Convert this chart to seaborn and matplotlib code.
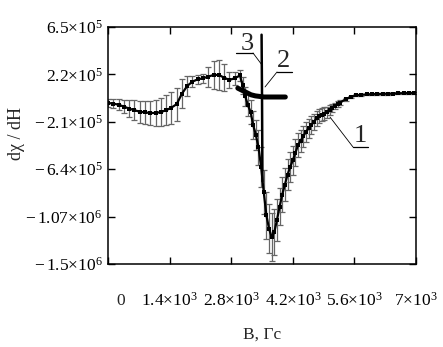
import numpy as np
import seaborn as sns
import matplotlib.pyplot as plt

# curve 1: measured derivative with error bars
b1 = [0, 120, 240, 360, 480, 600, 720, 840, 960, 1080, 1200, 1320, 1440, 1560,
      1680, 1800, 1920, 2040, 2160, 2280, 2400, 2520, 2640, 2760, 2880, 3000,
      3060, 3120, 3180, 3240, 3300, 3360, 3420, 3480, 3540, 3600, 3660, 3720,
      3780, 3840, 3900, 3960, 4020, 4080, 4140, 4200, 4260, 4320, 4380, 4440,
      4500, 4560, 4620, 4680, 4740, 4800, 4860, 4920, 4980, 5040, 5100, 5160,
      5220, 5280, 5400, 5520, 5640, 5760, 5880, 6000, 6120, 6240, 6360, 6480,
      6600, 6720, 6840, 6960]
y1 = [-0.39, -0.45, -0.55, -0.72, -0.90, -1.05, -1.18, -1.25, -1.30, -1.30,
      -1.22, -1.05, -0.82, -0.50, 0.45, 1.15, 1.55, 1.75, 1.85, 2.0, 2.15, 2.15,
      1.9, 1.7, 1.85, 2.1, 1.2, 0.2, -0.6, -1.2, -2.4, -3.3, -4.4, -6.2, -8.5,
      -10.6, -11.8, -12.55, -12.1, -11.0, -9.8, -8.7, -7.8, -6.9, -6.2, -5.6,
      -4.9, -4.2, -3.8, -3.4, -3.0, -2.7, -2.4, -2.1, -1.8, -1.6, -1.45, -1.35,
      -1.25, -1.05, -0.85, -0.65, -0.5, -0.35, -0.05, 0.15, 0.3, 0.35, 0.38,
      0.4, 0.42, 0.43, 0.45, 0.46, 0.48, 0.49, 0.5, 0.52]
e1 = [0.35, 0.4, 0.5, 0.6, 0.75, 0.9, 1.0, 1.05, 1.1, 1.15, 1.25, 1.35, 1.45,
      1.5, 1.3, 0.9, 0.5, 0.4, 0.4, 0.9, 1.3, 1.4, 1.2, 0.7, 0.6, 0.5, 0.8, 0.9,
      1.0, 1.1, 1.3, 1.4, 1.6, 1.8, 2.0, 2.1, 2.2, 2.2, 2.1, 1.9, 1.7, 1.6, 1.5,
      1.4, 1.35, 1.3, 1.2, 1.1, 1.0, 0.95, 0.9, 0.85, 0.8, 0.75, 0.7, 0.65,
      0.6, 0.55, 0.5, 0.45, 0.4, 0.3, 0.25, 0.2, 0.15, 0.1, 0.08, 0.08, 0.08,
      0.08, 0.08, 0.08, 0.08, 0.08, 0.08, 0.08, 0.08, 0.08]

# curve 2: thick short segment
b2 = [2950, 3050, 3150, 3250, 3350, 3450, 3550, 3650, 3750, 3850, 3950, 4030]
y2 = [0.95, 0.75, 0.55, 0.35, 0.25, 0.2, 0.15, 0.15, 0.15, 0.15, 0.15, 0.15]

# curve 3: narrow spike
b3 = [3490, 3500, 3510]
y3 = [5.8, 0.3, -7.5]

scale = 1e5
xticks = [0, 1400, 2800, 4200, 5600, 7000]
xlabels = ["", r"$1.4{\times}10^{3}$", r"$2.8{\times}10^{3}$", r"$4.2{\times}10^{3}$",
           r"$5.6{\times}10^{3}$", r"$7{\times}10^{3}$"]
yticks = [6.5e5, 2.2e5, -2.1e5, -6.4e5, -1.07e6, -1.5e6]
ylabels = [r"$6.5{\times}10^{5}$", r"$2.2{\times}10^{5}$", r"$-\,2.1{\times}10^{5}$",
           r"$-\,6.4{\times}10^{5}$", r"$-\,1.07{\times}10^{6}$", r"$-\,1.5{\times}10^{6}$"]

sns.set_theme(style="ticks")
plt.rcParams["font.family"] = ["Liberation Serif", "DejaVu Serif"]
plt.rcParams["mathtext.fontset"] = "custom"
plt.rcParams["mathtext.rm"] = "Liberation Serif"
plt.rcParams["mathtext.it"] = "Liberation Serif"

fig = plt.figure(figsize=(4.43, 3.47), dpi=100)
ax = fig.add_axes([0.2438, 0.2392, 0.6953, 0.683])

yv1 = np.array(y1) * scale
ax.errorbar(b1, yv1, yerr=np.array(e1) * scale, fmt="none", ecolor="#666666",
            elinewidth=0.9, capsize=2.2, capthick=0.9, zorder=2)
sns.lineplot(x=b1, y=yv1, ax=ax, color="black", lw=1.6, marker="s",
             markersize=2.2, markeredgewidth=0, zorder=3)
sns.lineplot(x=b2, y=np.array(y2) * scale, ax=ax, color="black", lw=3.6, zorder=4)
sns.lineplot(x=b3, y=np.array(y3) * scale, ax=ax, color="black", lw=1.8, zorder=5)

ax.set_xlim(0, 7000)
ax.set_ylim(-1.5e6, 6.5e5)
ax.set_xticks(xticks)
ax.set_xticklabels(xlabels, fontsize=12.5)
ax.set_yticks(yticks)
ax.set_yticklabels(ylabels, fontsize=12.5)
ax.tick_params(direction="in", length=5, width=1, top=True, right=True,
               colors="black")
ax.tick_params(axis="x", pad=20)
ax.tick_params(axis="y", pad=4)
for s in ax.spines.values():
    s.set_linewidth(1.1)
    s.set_color("black")
ax.annotate("0", xy=(0, 0), xycoords=("data", "axes fraction"), xytext=(9, -29.5),
            textcoords="offset points", ha="center", va="baseline", fontsize=12.5)

ax.set_xlabel("B, Гс", fontsize=12.5, labelpad=12)
ax.set_ylabel("dχ / dH", fontsize=13)
ax.yaxis.set_label_coords(-0.27, 0.55)

# curve labels with underline and leader
for txt, tx, ty, ux0, ux1, uy, lx, ly in [
        ("3", 3160, 5.0e5, 2910, 3296, 4.14e5, 3500, 3.05e5),
        ("2", 3977, 3.45e5, 3841, 4182, 2.42e5, 3568, 1.06e5),
        ("1", 5727, -3.35e5, 5568, 5909, -4.39e5, 5045, -1.67e5)]:
    ax.text(tx, ty, txt, fontsize=19, ha="center", va="center")
    ax.plot([ux0, ux1], [uy, uy], color="black", lw=0.9)
    lx0 = ux0 if txt != "3" else ux1
    ax.plot([lx0, lx], [uy, ly], color="black", lw=0.6)

fig.savefig("out.png", dpi=100)
